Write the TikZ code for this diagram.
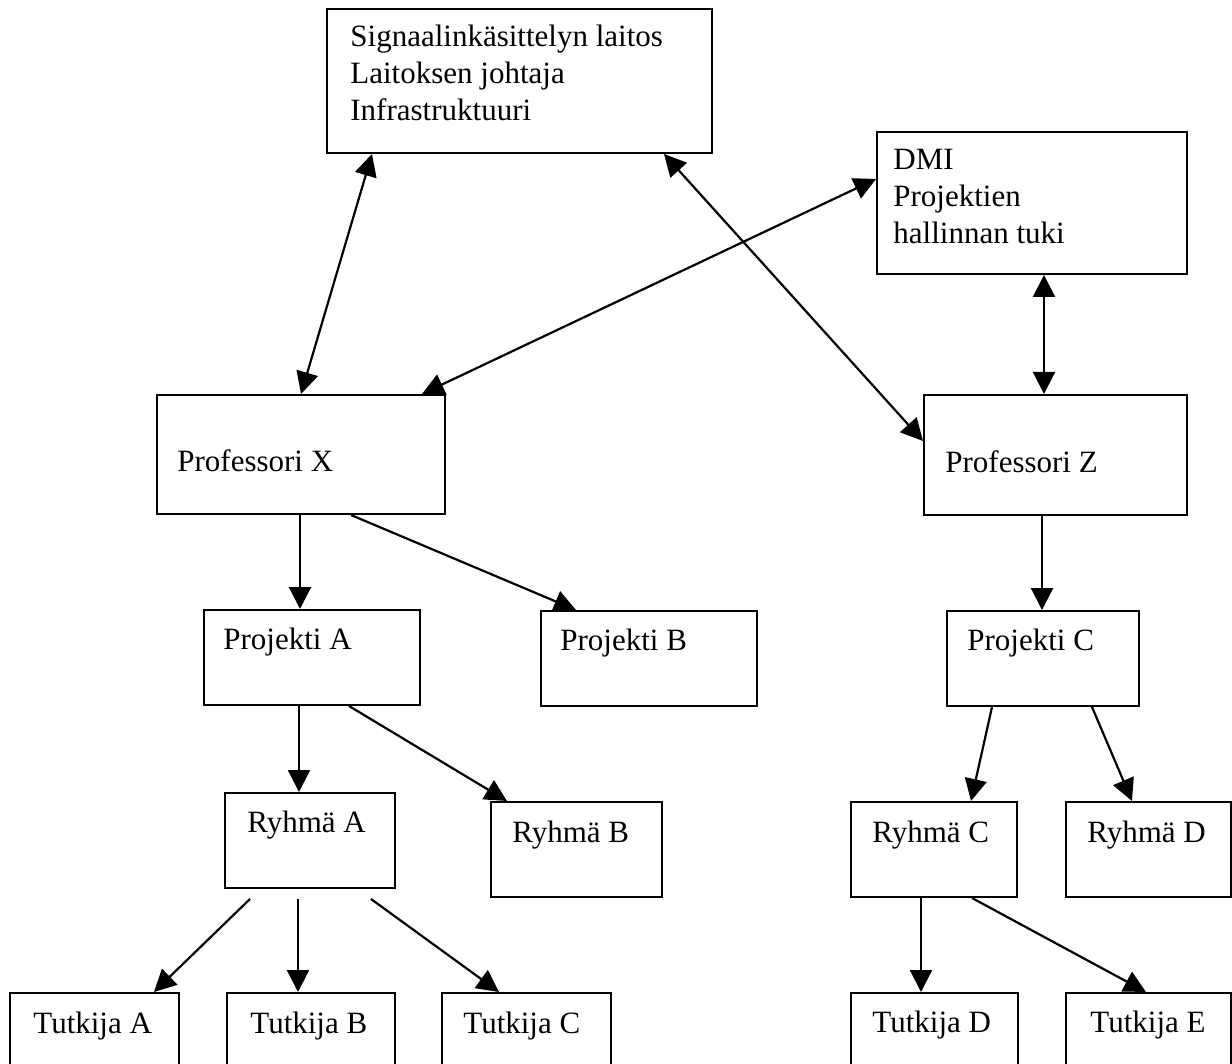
\documentclass[tikz,border=0pt]{standalone}
\usepackage{fontspec}
\setmainfont{Liberation Serif}
\usetikzlibrary{arrows.meta,fit,calc}
\tikzset{
  box/.style={draw=black, line width=1pt, inner sep=0pt, rectangle},
  txt/.style={anchor=base west, inner sep=0pt, font=\fontsize{15.5}{18.5}\selectfont},
  conn/.style={line width=1.1pt, -{Triangle[length=11pt,width=11pt]}},
  dconn/.style={line width=1.1pt, {Triangle[length=11pt,width=11pt]}-{Triangle[length=11pt,width=11pt]}}
}
\begin{document}
\begin{tikzpicture}[x=0.5pt,y=-0.5pt]
\useasboundingbox (0,0) rectangle (1232,1064);
\clip (0,0) rectangle (1232,1064);
\fill[white] (0,0) rectangle (1232,1064);
% boxes
\node[box, fit={(327,9) (712,153)}] (top) {};
\node[box, fit={(877,132) (1187,274)}] (dmi) {};
\node[box, fit={(157,395) (445,514)}] (px) {};
\node[box, fit={(924,395) (1187,515)}] (pz) {};
\node[box, fit={(204,610) (420,705)}] (pa) {};
\node[box, fit={(541,611) (757,706)}] (pb) {};
\node[box, fit={(947,611) (1139,706)}] (pc) {};
\node[box, fit={(225,793) (395,888)}] (ra) {};
\node[box, fit={(491,802) (662,897)}] (rb) {};
\node[box, fit={(851,802) (1017,897)}] (rc) {};
\node[box, fit={(1066,802) (1231,897)}] (rd) {};
\node[box, fit={(10,993) (179,1075)}] (ta) {};
\node[box, fit={(227,993) (395,1075)}] (tb) {};
\node[box, fit={(442,993) (611,1075)}] (tc) {};
\node[box, fit={(851,993) (1018,1075)}] (td) {};
\node[box, fit={(1066,993) (1231,1075)}] (te) {};
% texts
\node[txt] (t1) at (350,47) {Signaalinkäsittelyn laitos};
\node[txt] (t2) at (350,84) {Laitoksen johtaja};
\node[txt] (t3) at (350,121) {Infrastruktuuri};
\node[txt] (d1) at (893,170) {DMI};
\node[txt] (d2) at (893,207) {Projektien};
\node[txt] (d3) at (893,244) {hallinnan tuki};
\node[txt] (pxt) at (177,471) {Professori X};
\node[txt] (pzt) at (945,472) {Professori Z};
\node[txt] (pat) at (223,649) {Projekti A};
\node[txt] (pbt) at (560,650) {Projekti B};
\node[txt] (pct) at (967,650) {Projekti C};
\node[txt] (rat) at (247,832) {Ryhmä A};
\node[txt] (rbt) at (512,842) {Ryhmä B};
\node[txt] (rct) at (872,842) {Ryhmä C};
\node[txt] (rdt) at (1087,842) {Ryhmä D};
\node[txt] (tat) at (33,1033) {Tutkija A};
\node[txt] (tbt) at (250,1033) {Tutkija B};
\node[txt] (tct) at (463,1033) {Tutkija C};
\node[txt] (tdt) at (872,1032) {Tutkija D};
\node[txt] (tet) at (1090,1032) {Tutkija E};
% connectors
\draw[dconn] ($(top.south west)+(46,0)$) -- ($(px.north west)+(145,0)$);
\draw[dconn] ($(dmi.north west)+(0,48)$) -- ($(px.north west)+(266,0)$);
\draw[dconn] ($(top.south west)+(338,0)$) -- ($(pz.north west)+(0,47)$);
\draw[dconn] ($(dmi.south west)+(168,0)$) -- ($(pz.north west)+(121,0)$);
\draw[conn] ($(pz.south west)+(119,0)$) -- ($(pc.north west)+(96,0)$);
\draw[conn] ($(px.south west)+(144,0)$) -- ($(pa.north west)+(97,0)$);
\draw[conn] ($(px.south west)+(195,0)$) -- ($(pb.north west)+(36,0)$);
\draw[conn] ($(pa.south west)+(96,0)$) -- ($(ra.north west)+(75,0)$);
\draw[conn] ($(pa.south west)+(146,0)$) -- ($(rb.north west)+(17,0)$);
\draw[conn] ($(pc.south west)+(46,0)$) -- ($(rc.north west)+(121,0)$);
\draw[conn] ($(pc.south west)+(146,0)$) -- ($(rd.north west)+(67,0)$);
\draw[conn] ($(ra.south west)+(26,10)$) -- ($(ta.north west)+(145,0)$);
\draw[conn] ($(ra.south west)+(74,10)$) -- ($(tb.north west)+(72,0)$);
\draw[conn] ($(ra.south west)+(147,10)$) -- ($(tc.north west)+(58,0)$);
\draw[conn] ($(rc.south west)+(71,0)$) -- ($(td.north west)+(71,0)$);
\draw[conn] ($(rc.south west)+(122,0)$) -- ($(te.north west)+(81,0)$);
\end{tikzpicture}
\end{document}
